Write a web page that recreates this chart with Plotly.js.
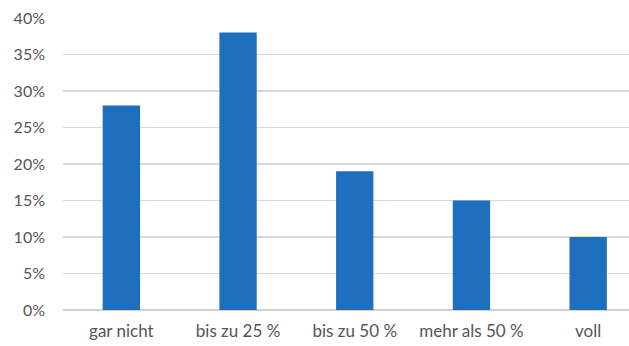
<!DOCTYPE html>
<html>
<head>
<meta charset="utf-8">
<script src="https://cdn.plot.ly/plotly-3.0.1.min.js"></script>
<style>html,body{margin:0;padding:0;background:#fff;}#chart{width:629px;height:346px;}</style>
</head>
<body>
<div id="chart"></div>
<script>
const categories = ["gar nicht", "bis zu 25 %", "bis zu 50 %", "mehr als 50 %", "voll"];
const values = [0.28, 0.38, 0.19, 0.15, 0.10];
const yTickVals = [0, 0.05, 0.10, 0.15, 0.20, 0.25, 0.30, 0.35, 0.40];
const yTickText = ["0%", "5%", "10%", "15%", "20%", "25%", "30%", "35%", "40%"];

const trace = {
  type: "bar",
  x: categories,
  y: values,
  marker: {color: "#1f6fbf"},
  hoverinfo: "none"
};

const layout = {
  width: 629,
  height: 346,
  margin: {l: 63, r: 0, t: 18, b: 36},
  paper_bgcolor: "#ffffff",
  plot_bgcolor: "#ffffff",
  bargap: 0.68,
  showlegend: false,
  font: {family: "Lato, 'Open Sans', sans-serif", size: 15, color: "#555555"},
  xaxis: {
    type: "category",
    range: [-0.5, 4.35],
    showgrid: false,
    zeroline: false,
    showline: false,
    ticks: "",
    ticklabelstandoff: 9,
    tickfont: {size: 17, color: "#555555"}
  },
  yaxis: {
    range: [0, 0.40],
    tickvals: yTickVals,
    ticktext: yTickText,
    showgrid: true,
    gridcolor: "#d9d9d9",
    gridwidth: 1.5,
    zeroline: true,
    zerolinecolor: "#d0d0d0",
    zerolinewidth: 1.5,
    showline: false,
    ticks: "",
    ticklabelstandoff: 17,
    tickfont: {size: 16, color: "#555555"}
  }
};

Plotly.newPlot("chart", [trace], layout, {staticPlot: true, displayModeBar: false});
</script>
</body>
</html>
